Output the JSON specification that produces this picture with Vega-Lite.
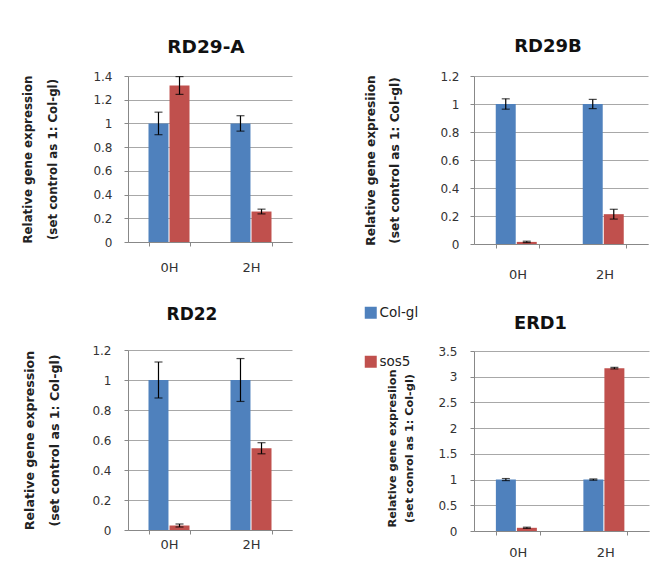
{
  "$schema": "https://vega.github.io/schema/vega-lite/v6.json",
  "padding": {"left": 22, "top": 37, "right": 5, "bottom": 5},
  "background": "white",
  "datasets": {
    "rd29a": [
      {"time": "0H", "genotype": "Col-gl", "value": 1.0, "err": 0.095},
      {"time": "0H", "genotype": "sos5", "value": 1.32, "err": 0.075},
      {"time": "2H", "genotype": "Col-gl", "value": 1.0, "err": 0.065},
      {"time": "2H", "genotype": "sos5", "value": 0.257, "err": 0.02}
    ],
    "rd29b": [
      {"time": "0H", "genotype": "Col-gl", "value": 1.0, "err": 0.037},
      {"time": "0H", "genotype": "sos5", "value": 0.015, "err": 0.005},
      {"time": "2H", "genotype": "Col-gl", "value": 1.0, "err": 0.033},
      {"time": "2H", "genotype": "sos5", "value": 0.213, "err": 0.035}
    ],
    "rd22": [
      {"time": "0H", "genotype": "Col-gl", "value": 1.0, "err": 0.12},
      {"time": "0H", "genotype": "sos5", "value": 0.03, "err": 0.01},
      {"time": "2H", "genotype": "Col-gl", "value": 1.0, "err": 0.143},
      {"time": "2H", "genotype": "sos5", "value": 0.545, "err": 0.037}
    ],
    "erd1": [
      {"time": "0H", "genotype": "Col-gl", "value": 1.0, "err": 0.02},
      {"time": "0H", "genotype": "sos5", "value": 0.062, "err": 0.012},
      {"time": "2H", "genotype": "Col-gl", "value": 1.0, "err": 0.012},
      {"time": "2H", "genotype": "sos5", "value": 3.167, "err": 0.015}
    ]
  },
  "resolve": {"scale": {"color": "independent"}, "legend": {"color": "independent"}},
  "columns": 2,
  "align": "none",
  "spacing": {"row": 25, "column": 72},
  "concat": [
    {
      "width": 164, "height": 166,
      "title": {"text": "RD29-A", "dx": -4, "offset": 14, "fontSize": 18.5},
      "data": {"name": "rd29a"},
      "encoding": {
        "x": {"field": "time", "type": "nominal", "title": null, "scale": {"paddingInner": 0.5, "paddingOuter": 0.25},
              "axis": {"labelPadding": 15}},
        "xOffset": {"field": "genotype", "type": "nominal", "sort": ["Col-gl", "sos5"], "scale": {"paddingInner": 0.05}},
        "y": {"field": "value", "type": "quantitative", "scale": {"domain": [0, 1.4]},
              "axis": {"values": [0, 0.2, 0.4, 0.6, 0.8, 1, 1.2, 1.4], "format": "~g",
                       "title": ["Relative gene expression", "(set control as 1: Col-gl)"],
                       "labelPadding": 12, "titlePadding": 34, "titleLineHeight": 25, "titleFontSize": 11.8}}
      },
      "layer": [
        {
          "mark": {"type": "bar"},
          "encoding": {
            "color": {"field": "genotype", "type": "nominal", "legend": null,
                      "scale": {"domain": ["Col-gl", "sos5"], "range": ["#4F81BD", "#C0504D"]}}
          }
        },
        {
          "mark": {"type": "errorbar", "ticks": {"size": 8}, "color": "black", "thickness": 1.2},
          "encoding": {"yError": {"field": "err"}}
        }
      ]
    },
    {
      "width": 174, "height": 168,
      "title": {"text": "RD29B", "dx": -13, "offset": 14, "fontSize": 18},
      "data": {"name": "rd29b"},
      "encoding": {
        "x": {"field": "time", "type": "nominal", "title": null, "scale": {"paddingInner": 0.5, "paddingOuter": 0.25},
              "axis": {"labelPadding": 20}},
        "xOffset": {"field": "genotype", "type": "nominal", "sort": ["Col-gl", "sos5"], "scale": {"paddingInner": 0.05}},
        "y": {"field": "value", "type": "quantitative", "scale": {"domain": [0, 1.2]},
              "axis": {"values": [0, 0.2, 0.4, 0.6, 0.8, 1, 1.2], "format": "~g",
                       "title": ["Relative gene expresiion", "(set control as 1: Col-gl)"],
                       "labelPadding": 11, "titlePadding": 38, "titleLineHeight": 24, "titleFontSize": 12.2}}
      },
      "layer": [
        {
          "mark": {"type": "bar"},
          "encoding": {
            "color": {"field": "genotype", "type": "nominal", "legend": null,
                      "scale": {"domain": ["Col-gl", "sos5"], "range": ["#4F81BD", "#C0504D"]}}
          }
        },
        {
          "mark": {"type": "errorbar", "ticks": {"size": 8}, "color": "black", "thickness": 1.2},
          "encoding": {"yError": {"field": "err"}}
        }
      ]
    },
    {
      "width": 164, "height": 180,
      "title": {"text": "RD22", "dx": -18, "offset": 20, "fontSize": 17},
      "data": {"name": "rd22"},
      "encoding": {
        "x": {"field": "time", "type": "nominal", "title": null, "scale": {"paddingInner": 0.5, "paddingOuter": 0.25},
              "axis": {"labelPadding": 4}},
        "xOffset": {"field": "genotype", "type": "nominal", "sort": ["Col-gl", "sos5"], "scale": {"paddingInner": 0.05}},
        "y": {"field": "value", "type": "quantitative", "scale": {"domain": [0, 1.2]},
              "axis": {"values": [0, 0.2, 0.4, 0.6, 0.8, 1, 1.2], "format": "~g",
                       "title": ["Relative gene expression", "(set control as 1: Col-gl)"],
                       "labelPadding": 13, "titlePadding": 30, "titleLineHeight": 25, "titleFontSize": 12.6}}
      },
      "layer": [
        {
          "mark": {"type": "bar"},
          "encoding": {
            "color": {"field": "genotype", "type": "nominal", "legend": null,
                      "scale": {"domain": ["Col-gl", "sos5"], "range": ["#4F81BD", "#C0504D"]}}
          }
        },
        {
          "mark": {"type": "errorbar", "ticks": {"size": 8}, "color": "black", "thickness": 1.2},
          "encoding": {"yError": {"field": "err"}}
        }
      ]
    },
    {
      "width": 175, "height": 180,
      "title": {"text": "ERD1", "dx": -21, "dy": 41, "offset": 14, "fontSize": 17.8},
      "data": {"name": "erd1"},
      "encoding": {
        "x": {"field": "time", "type": "nominal", "title": null, "scale": {"paddingInner": 0.5, "paddingOuter": 0.25},
              "axis": {"labelPadding": 11}},
        "xOffset": {"field": "genotype", "type": "nominal", "sort": ["Col-gl", "sos5"], "scale": {"paddingInner": 0.05}},
        "y": {"field": "value", "type": "quantitative", "scale": {"domain": [0, 3.5]},
              "axis": {"values": [0, 0.5, 1, 1.5, 2, 2.5, 3, 3.5], "format": "~g",
                       "title": ["Relative gene expresiion", "(set conrol as 1: Col-gl)"],
                       "labelPadding": 13, "titlePadding": 23, "titleLineHeight": 17, "titleFontSize": 11.3,
                       "titleY": 97}}
      },
      "layer": [
        {
          "mark": {"type": "bar"},
          "encoding": {
            "color": {"field": "genotype", "type": "nominal",
                      "scale": {"domain": ["Col-gl", "sos5"], "range": ["#4F81BD", "#C0504D"]},
                      "legend": {"orient": "none", "legendX": -110, "legendY": -45, "title": null,
                                 "symbolType": "square", "symbolSize": 144, "symbolStrokeWidth": 0,
                                 "labelFontSize": 13.5, "labelColor": "#222", "labelFont": "DejaVu Sans",
                                 "rowPadding": 34, "padding": 0, "labelOffset": 2}}
          }
        },
        {
          "mark": {"type": "errorbar", "ticks": {"size": 8}, "color": "black", "thickness": 1.2},
          "encoding": {"yError": {"field": "err"}}
        }
      ]
    }
  ],
  "config": {
    "font": "DejaVu Sans",
    "view": {"stroke": null},
    "title": {"fontWeight": "bold", "color": "#111", "anchor": "middle", "font": "DejaVu Sans"},
    "axis": {
      "labelFont": "DejaVu Sans", "labelFontSize": 12, "labelColor": "#333",
      "titleFont": "DejaVu Sans", "titleFontWeight": "bold", "titleColor": "#222",
      "gridColor": "#a8a8a8", "domainColor": "#888", "tickColor": "#888", "tickSize": 4
    },
    "axisX": {"labelAngle": 0, "tickBand": "extent", "labelFontSize": 13, "grid": false},
    "axisY": {"domain": true}
  }
}
